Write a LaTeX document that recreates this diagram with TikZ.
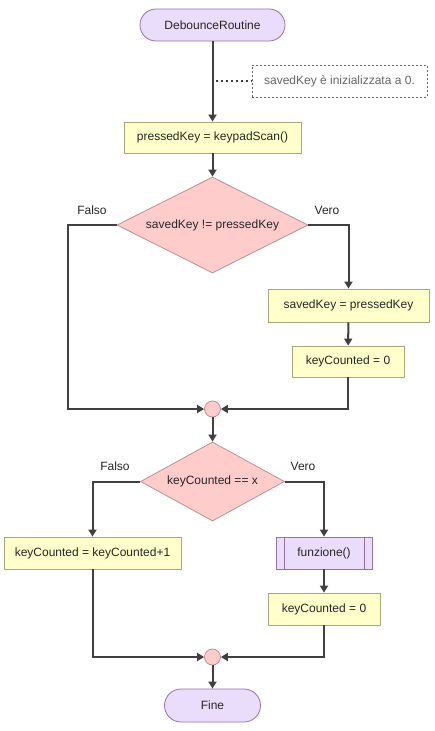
\documentclass[tikz,border=0pt]{standalone}
\usepackage{fontspec}
\setmainfont{Liberation Sans}
\usetikzlibrary{shapes.geometric,arrows.meta,calc}
\definecolor{termfill}{HTML}{EADDFB}
\definecolor{termdraw}{HTML}{9673A6}
\definecolor{boxfill}{HTML}{FFFFCC}
\definecolor{boxdraw}{HTML}{A8A878}
\definecolor{decfill}{HTML}{FFCCCC}
\definecolor{decdraw}{HTML}{C09090}
\definecolor{linecol}{HTML}{404040}
\definecolor{notetext}{HTML}{666666}
\begin{document}
\begin{tikzpicture}[x=1pt,y=-1pt,font=\fontsize{12}{14}\selectfont,
  term/.style={draw=termdraw,fill=termfill,line width=0.8pt,rounded corners=16pt,inner sep=0pt,text=black!85},
  proc/.style={draw=boxdraw,fill=boxfill,line width=0.8pt,inner sep=0pt,text=black!85},
  subproc/.style={draw=termdraw,fill=termfill,line width=0.8pt,inner sep=0pt,text=black!85,
    path picture={\draw[termdraw,line width=0.8pt]
      ([xshift=8pt]path picture bounding box.north west) -- ([xshift=8pt]path picture bounding box.south west)
      ([xshift=-8pt]path picture bounding box.north east) -- ([xshift=-8pt]path picture bounding box.south east);}},
  dec/.style={diamond,draw=decdraw,fill=decfill,line width=0.8pt,inner sep=0pt,text=black!85},
  merge/.style={circle,draw=decdraw,fill=decfill,line width=0.8pt,inner sep=0pt,minimum size=16pt},
  note/.style={draw=notetext,dashed,dash pattern=on 2pt off 2pt,line width=0.6pt,fill=white,inner sep=0pt,text=notetext},
  lbl/.style={inner sep=0pt,text=black!85},
  flow/.style={draw=linecol,line width=2pt,-{Triangle[length=7pt,width=8pt]}},
  link/.style={draw=linecol,line width=2pt},
]
\useasboundingbox (0,0) rectangle (435,731);
\fill[white] (0,0) rectangle (435,731);

% nodes
\node[term,minimum width=145pt,minimum height=32pt] (start) at (212.5,25) {DebounceRoutine};
\node[note,minimum width=175pt,minimum height=32pt] (nt) at (339.5,81) {savedKey è inizializzata a 0.};
\node[proc,minimum width=177pt,minimum height=31pt] (scan) at (212.5,137.5) {pressedKey = keypadScan()};
\node[dec,minimum width=191pt,minimum height=96pt,aspect=2] (d1) at (212.5,225) {savedKey != pressedKey};
\node[proc,minimum width=161pt,minimum height=33pt] (s1) at (348.5,305.5) {savedKey = pressedKey};
\node[proc,minimum width=112pt,minimum height=31pt] (k1) at (348,361.5) {keyCounted = 0};
\node[merge] (c1) at (212.5,409) {};
\node[dec,minimum width=144pt,minimum height=79pt,aspect=1.82] (d2) at (212.5,481.5) {keyCounted == x};
\node[proc,minimum width=177pt,minimum height=32pt] (b1) at (92.5,553) {keyCounted = keyCounted+1};
\node[subproc,minimum width=96pt,minimum height=32pt] (fz) at (324,553) {funzione()};
\node[proc,minimum width=112pt,minimum height=32pt] (k2) at (324,609) {keyCounted = 0};
\node[merge] (c2) at (212.5,657) {};
\node[term,rounded corners=16.5pt,minimum width=96pt,minimum height=33pt] (fine) at (212.5,705.5) {Fine};

% labels
\node[lbl] (f1) at (92,210) {Falso};
\node[lbl] (v1) at (327,210) {Vero};
\node[lbl] (f2) at (115,466) {Falso};
\node[lbl] (v2) at (303,466) {Vero};

% connectors
\draw[flow] (start) -- (scan);
\coordinate (tap) at (start.south |- nt.west);
\draw[draw=linecol,line width=2pt,dash pattern=on 2pt off 3pt] ([xshift=3pt]tap) -- (nt.west);
\draw[flow] (scan) -- (d1);
\draw[flow] (d1.west) -- ++(-49,0) coordinate (l1) |- (c1.west);
\draw[flow] (d1.east) -| (s1.north);
\draw[flow] (s1) -- (k1);
\draw[flow] (k1.south) |- (c1.east);
\draw[flow] (c1) -- (d2);
\draw[flow] (d2.west) -| (b1.north);
\draw[flow] (d2.east) -| (fz.north);
\draw[flow] (fz) -- (k2);
\draw[flow] (b1.south) |- (c2.west);
\draw[flow] (k2.south) |- (c2.east);
\draw[flow] (c2) -- (fine);
\end{tikzpicture}
\end{document}
